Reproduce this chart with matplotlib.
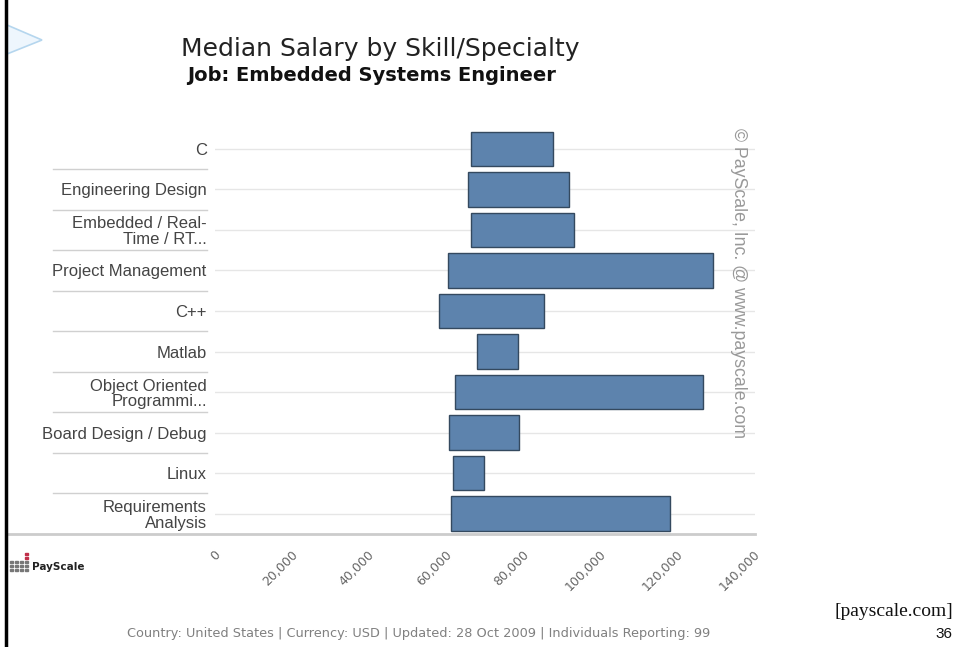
import numpy as np
import matplotlib
matplotlib.use('Agg')
import matplotlib.pyplot as plt
from matplotlib.patches import Polygon, Rectangle
from matplotlib.lines import Line2D
from matplotlib import transforms

# data (salary range per skill, USD)
skills = ['C', 'Engineering Design', 'Embedded / Real-\nTime / RT...',
          'Project Management', 'C++', 'Matlab',
          'Object Oriented\nProgrammi...', 'Board Design / Debug', 'Linux',
          'Requirements\nAnalysis']
low = [66400, 65700, 66400, 60500, 58000, 68000, 62100, 60600, 61800, 61100]
high = [87500, 91800, 93100, 129200, 85200, 78600, 126500, 78900, 69700, 118000]
xticks = [0, 20000, 40000, 60000, 80000, 100000, 120000, 140000]

W, H = 958, 647


def px(x, y):
    # pixel position -> figure fraction
    return x / W, 1 - y / H


fig = plt.figure(figsize=(W / 100, H / 100), dpi=100)
ax = fig.add_axes([215 / W, 1 - 534 / H, 540 / W, (534 - 128.5) / H])

y = np.arange(len(skills))
lo = np.array(low)
hi = np.array(high)
ax.barh(y, hi - lo, left=lo, height=0.85, color='#5d83ad',
        edgecolor='#34495f', linewidth=1, zorder=2)

ax.set_xlim(0, 140000)
ax.set_ylim(len(skills) - 0.5, -0.5)
ax.set_yticks(y)
ax.set_yticklabels(skills, family='Liberation Sans', fontsize=12,
                   color='#444444', linespacing=1.05)
ax.set_xticks(xticks)
ax.set_xticklabels(['{:,}'.format(v) for v in xticks], rotation=45,
                   ha='right', va='top', fontsize=9, color='#666666')
ax.tick_params(axis='both', length=0)
ax.tick_params(axis='y', pad=6)
ax.tick_params(axis='x', pad=10)
shift = transforms.ScaledTranslation(0.08, 0, fig.dpi_scale_trans)
for lab in ax.get_xticklabels():
    lab.set_transform(lab.get_transform() + shift)

ax.yaxis.grid(True, color='#e6e6e6', linewidth=1)
ax.xaxis.grid(False)
ax.set_axisbelow(True)
for s in ax.spines.values():
    s.set_visible(False)

# separators between category labels
for k in range(len(skills) - 1):
    ax.add_line(Line2D([-0.30, -0.015], [k + 0.5, k + 0.5], color='#d0d0d0',
                       linewidth=1, transform=ax.get_yaxis_transform(),
                       clip_on=False))
# bottom axis line, running under the labels to the border
ax.add_line(Line2D([-0.385, 1.0], [0, 0], color='#cccccc', linewidth=2,
                   transform=ax.transAxes, clip_on=False))

# watermark
ax.text(0.97, 1.0, '\u00a9 PayScale, Inc. @ www.payscale.com', rotation=-90,
        transform=ax.transAxes, ha='center', va='top', family='Liberation Sans',
        fontsize=12.8, color='#999999')

# titles
fig.text(*px(181, 56), 'Median Salary by Skill/Specialty', fontsize=18,
         color='#222222', va='baseline')
fig.text(*px(187, 81), 'Job: Embedded Systems Engineer', fontsize=14,
         color='#111111', va='baseline', fontweight='bold')

# footer
fig.text(*px(419, 634), 'Country: United States | Currency: USD | Updated: 28 Oct 2009 | Individuals Reporting: 99',
         ha='center', va='center', fontsize=9.3, color='#808080')
fig.text(*px(953, 612), '[payscale.com]', ha='right', va='center',
         family='Liberation Serif', fontsize=14, color='#111111')
fig.text(*px(952, 634), '36', ha='right', va='center',
         family='Liberation Sans', fontsize=11, color='#111111')

# left border and arrow decoration
fig.add_artist(Line2D([6 / W, 6 / W], [0, 1], color='black', linewidth=2.5))
fig.add_artist(Polygon([px(7, 25), px(42, 40), px(7, 54)], closed=True,
                       facecolor='#eef6fd', edgecolor='#b5d6ee', linewidth=1.2))

# small PayScale logo
for i in range(4):
    for j in range(3):
        fig.add_artist(Rectangle(px(10 + 5 * i, 563 + 4 * j), 2.5 / W, 2.5 / H,
                                 color='#777777'))
for j in range(2):
    fig.add_artist(Rectangle(px(25, 555 + 4 * j), 2.5 / W, 2.5 / H,
                             color='#c0304a'))
fig.text(*px(32, 567), 'PayScale', fontsize=7.5, fontweight='bold',
         color='#222222', va='center')

fig.savefig('out.png', dpi=100)
